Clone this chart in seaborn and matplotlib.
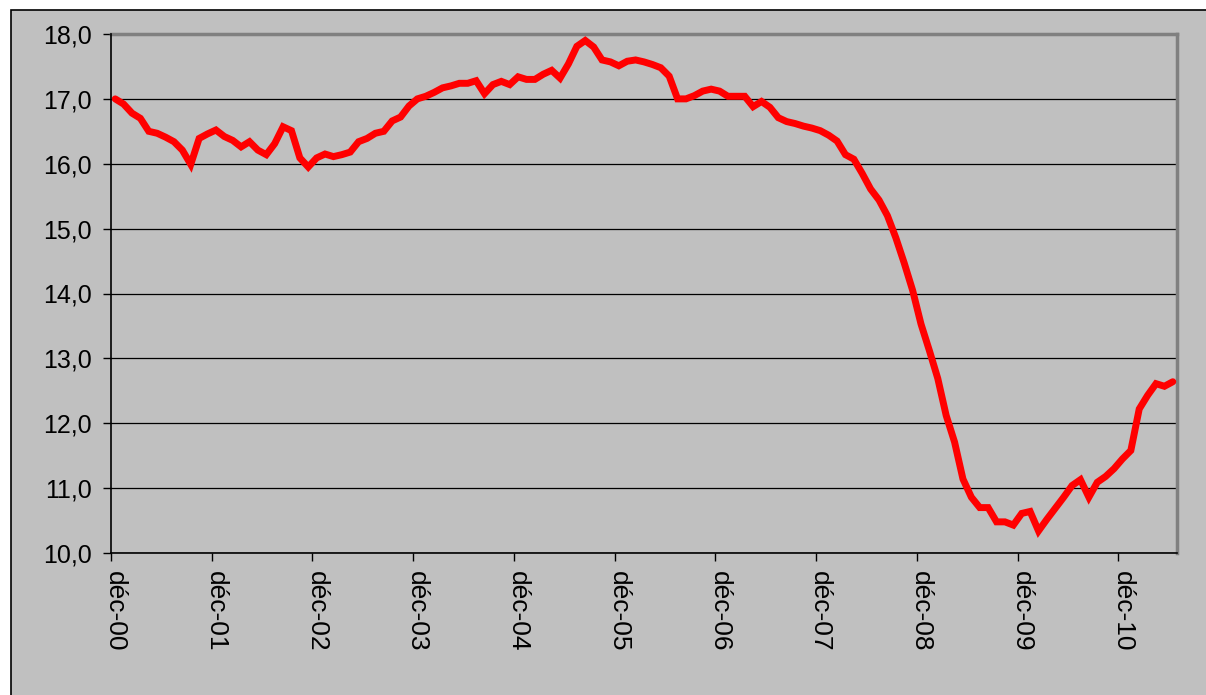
import numpy as np
import pandas as pd
import matplotlib
matplotlib.use("Agg")
import matplotlib.pyplot as plt
from matplotlib.patches import Rectangle
from matplotlib.ticker import FixedLocator, FuncFormatter
import seaborn as sns

# monthly series, déc-00 .. juin-11
values = [
    17.00, 16.92, 16.78, 16.70, 16.50, 16.47, 16.41, 16.34, 16.21, 15.99,
    16.39, 16.46, 16.52, 16.42, 16.36, 16.26, 16.34, 16.21, 16.14, 16.31,
    16.57, 16.51, 16.09, 15.95, 16.09, 16.15, 16.11, 16.14, 16.18, 16.34,
    16.39, 16.47, 16.50, 16.66, 16.72, 16.89, 17.00, 17.04, 17.10, 17.17,
    17.20, 17.24, 17.24, 17.28, 17.08, 17.22, 17.27, 17.22, 17.34, 17.30,
    17.30, 17.38, 17.44, 17.32, 17.54, 17.81, 17.90, 17.80, 17.60, 17.57,
    17.51, 17.58, 17.60, 17.57, 17.53, 17.48, 17.35, 17.00, 17.00, 17.05,
    17.12, 17.15, 17.12, 17.04, 17.04, 17.04, 16.88, 16.96, 16.87, 16.71,
    16.65, 16.62, 16.58, 16.55, 16.51, 16.44, 16.35, 16.14, 16.07, 15.85,
    15.61, 15.44, 15.20, 14.86, 14.47, 14.05, 13.53, 13.12, 12.69, 12.12,
    11.71, 11.14, 10.86, 10.70, 10.70, 10.48, 10.48, 10.43, 10.61, 10.64,
    10.34, 10.52, 10.69, 10.86, 11.04, 11.13, 10.86, 11.09, 11.18, 11.30,
    11.45, 11.58, 12.22, 12.43, 12.61, 12.57, 12.64,
]
year_labels = ["déc-00", "déc-01", "déc-02", "déc-03", "déc-04", "déc-05",
               "déc-06", "déc-07", "déc-08", "déc-09", "déc-10"]
y_ticks = [10, 11, 12, 13, 14, 15, 16, 17, 18]

df = pd.DataFrame({"month": np.arange(len(values)), "value": values})

sns.set_theme(style="white")
plt.rcParams["font.family"] = ["Liberation Sans", "DejaVu Sans"]

W, H = 1206, 695
fig = plt.figure(figsize=(W / 100, H / 100), dpi=100, facecolor="white")
fig.patches.append(Rectangle((11 / W, -0.5), 2, (H - 10) / H + 0.5,
                             transform=fig.transFigure, facecolor="#c0c0c0",
                             edgecolor="black", lw=1.2, zorder=-10))

ax = fig.add_axes([111 / W, 1 - 553 / H, (1177 - 111) / W, (553 - 34) / H])
ax.set_facecolor("#c0c0c0")

sns.lineplot(data=df, x="month", y="value", ax=ax, color="#ff0000",
             linewidth=5, solid_joinstyle="miter", zorder=3)

ax.set_xlim(-0.5, len(values) - 0.5)
ax.set_ylim(10, 18)
ax.set_xlabel("")
ax.set_ylabel("")

# y axis
ax.yaxis.set_major_locator(FixedLocator(y_ticks))
ax.yaxis.set_major_formatter(FuncFormatter(lambda v, p: f"{v:.1f}".replace(".", ",")))
ax.grid(axis="y", color="black", linewidth=0.9)
ax.grid(axis="x", visible=False)
ax.tick_params(axis="y", which="major", direction="out", length=6, width=1,
               color="black", labelcolor="black", labelsize=18, pad=8, left=True)

# x axis: labels centred on the december point, tick marks on category edges
label_pos = [12 * k for k in range(len(year_labels))]
ax.xaxis.set_major_locator(FixedLocator(label_pos))
ax.set_xticklabels(year_labels, rotation=-90, va="top", ha="center")
ax.xaxis.set_minor_locator(FixedLocator([p - 0.5 for p in label_pos]))
ax.tick_params(axis="x", which="major", length=0, labelsize=19,
               labelcolor="black", pad=13)
ax.tick_params(axis="x", which="minor", direction="out", length=6, width=1,
               color="black", bottom=True)

for side in ["left", "bottom"]:
    ax.spines[side].set_color("black")
    ax.spines[side].set_linewidth(1.2)
for side in ["top", "right"]:
    ax.spines[side].set_color("#808080")
    ax.spines[side].set_linewidth(2.5)
ax.spines["left"].set_zorder(4)

fig.savefig("out.png", dpi=100, facecolor=fig.get_facecolor())
